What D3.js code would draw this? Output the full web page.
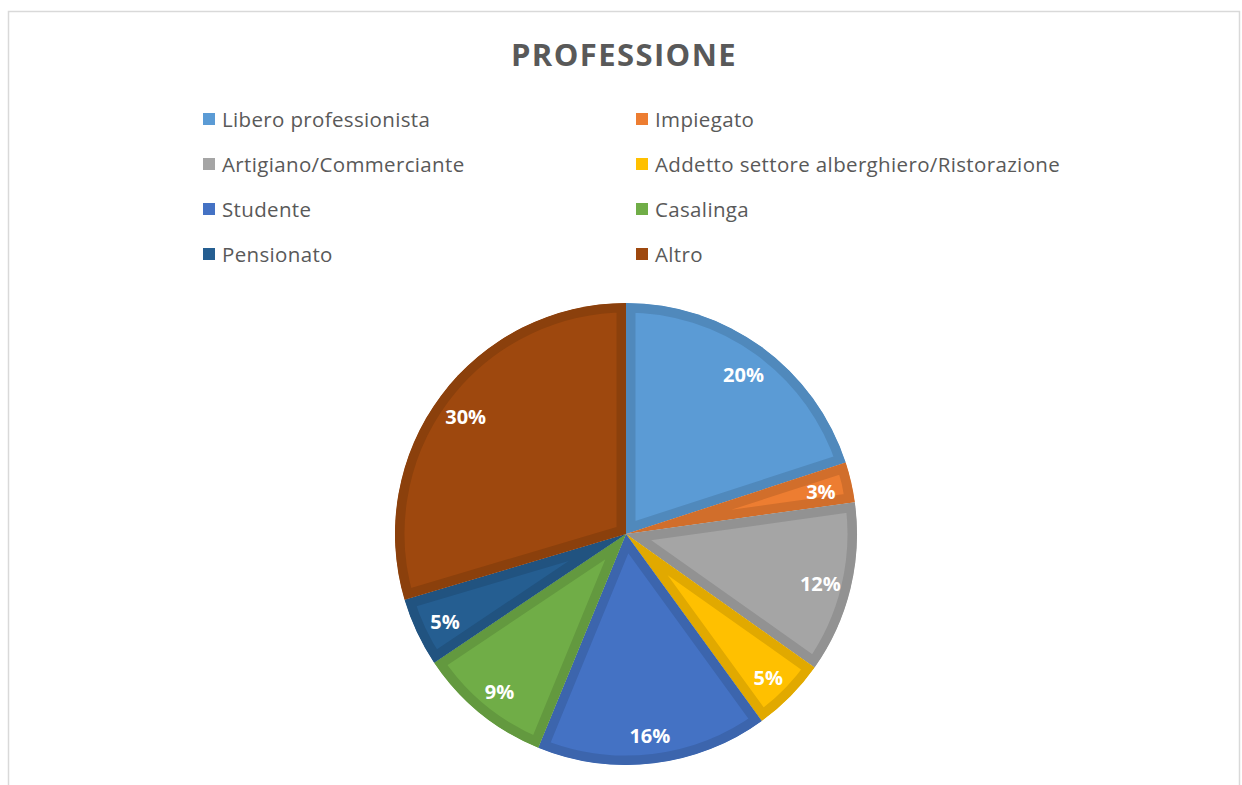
<!DOCTYPE html>
<html>
<head>
<meta charset="utf-8">
<script src="https://cdn.jsdelivr.net/npm/d3@7"></script>
<style>
  body { margin: 0; background: #fff; }
  svg { display: block; }
</style>
</head>
<body>
<div id="chart"></div>
<script>
// dati (percentuali)
var categorie = ["Libero professionista", "Impiegato", "Artigiano/Commerciante",
  "Addetto settore alberghiero/Ristorazione", "Studente", "Casalinga", "Pensionato", "Altro"];
var valori = [20.0, 2.8, 12.0, 5.2, 16.2, 9.4, 4.8, 29.6];
var colori = ["#5B9BD5", "#ED7D31", "#A5A5A5", "#FFC000", "#4472C4", "#70AD47", "#255E91", "#9E480E"];
var titolo = "PROFESSIONE";

var w = 1242, h = 785;
var cx = 626, cy = 534, R = 231;

var svg = d3.select("#chart").append("svg")
  .attr("width", w)
  .attr("height", h);

// cornice del grafico
svg.append("rect")
  .attr("x", 8.5).attr("y", 11.5)
  .attr("width", 1231).attr("height", 820)
  .attr("fill", "none")
  .attr("stroke", "#d9d9d9")
  .attr("stroke-width", 1.5);

svg.append("text")
  .attr("x", 624).attr("y", 66)
  .attr("text-anchor", "middle")
  .attr("font-family", "'Open Sans', sans-serif")
  .attr("font-weight", "bold")
  .attr("font-size", 31)
  .attr("fill", "#595959")
  .attr("letter-spacing", 1.4)
  .text(titolo);

// legenda a due colonne
var legX = [203, 636];
var legend = svg.selectAll("g.leg")
  .data(categorie)
  .enter()
  .append("g")
  .attr("class", "leg")
  .attr("transform", function(d, i) {
    return "translate(" + legX[i % 2] + "," + (113 + Math.floor(i / 2) * 45) + ")";
  });
legend.append("rect")
  .attr("width", 12).attr("height", 12)
  .attr("fill", function(d, i) { return colori[i]; });
legend.append("text")
  .attr("x", 19).attr("y", 14)
  .attr("font-family", "'Open Sans', sans-serif")
  .attr("font-size", 20.5)
  .attr("letter-spacing", 0.35)
  .attr("fill", "#595959")
  .text(function(d) { return d; });

var pie = d3.pie().sort(null).value(function(d) { return d; });
var arc = d3.arc().innerRadius(0).outerRadius(R);
var arcLabel = d3.arc().innerRadius(200).outerRadius(200);
var totale = d3.sum(valori);

var g = svg.append("g").attr("transform", "translate(" + cx + "," + cy + ")");
var defs = svg.append("defs");
var fette = pie(valori);

defs.selectAll("clipPath")
  .data(fette)
  .enter()
  .append("clipPath")
  .attr("id", function(d, i) { return "clip" + i; })
  .append("path")
  .attr("d", arc);

// bordo interno più scuro, come in Excel
g.selectAll("path.slice")
  .data(fette)
  .enter()
  .append("path")
  .attr("class", "slice")
  .attr("d", arc)
  .attr("fill", function(d, i) { return colori[i]; })
  .attr("stroke", function(d, i) { return d3.color(colori[i]).darker(0.35); })
  .attr("stroke-width", 19)
  .attr("stroke-linejoin", "miter")
  .attr("clip-path", function(d, i) { return "url(#clip" + i + ")"; });

g.selectAll("text.lab")
  .data(fette)
  .enter()
  .append("text")
  .attr("class", "lab")
  .attr("transform", function(d) { return "translate(" + arcLabel.centroid(d) + ")"; })
  .attr("text-anchor", "middle")
  .attr("dy", "0.5em")
  .attr("font-family", "'Open Sans', sans-serif")
  .attr("font-weight", "bold")
  .attr("font-size", 20)
  .attr("fill", "#ffffff")
  .text(function(d) { return Math.round(d.data / totale * 100) + "%"; });
</script>
</body>
</html>
